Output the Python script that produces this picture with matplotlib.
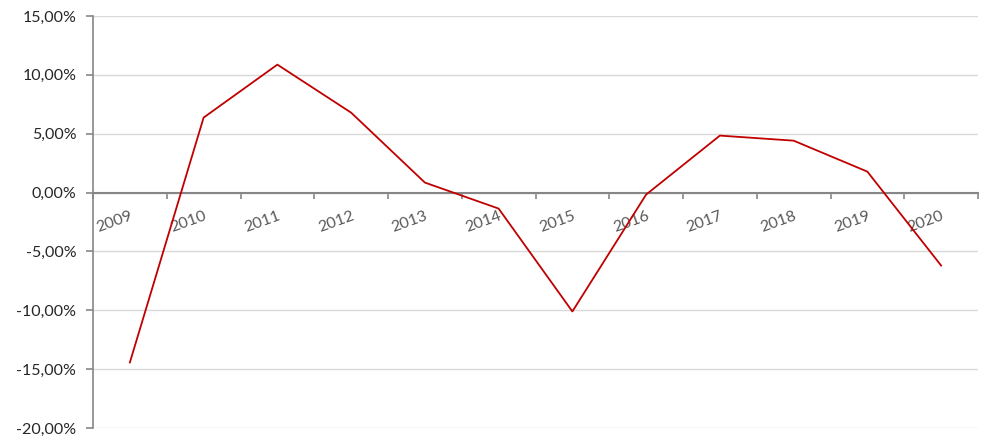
import matplotlib
matplotlib.use("Agg")
import matplotlib.pyplot as plt
from matplotlib.ticker import FuncFormatter

years = ["2009", "2010", "2011", "2012", "2013", "2014", "2015", "2016", "2017", "2018", "2019", "2020"]
values = [-14.43, 6.37, 10.87, 6.79, 0.85, -1.36, -10.10, -0.17, 4.84, 4.41, 1.78, -6.20]
yticks = [-20, -15, -10, -5, 0, 5, 10, 15]

plt.rcParams['font.family'] = ['Lato', 'DejaVu Sans']

fig = plt.figure(figsize=(10, 4.47), dpi=100)
ax = fig.add_axes([0.093, 0.0425, 0.885, 0.9217])

x = list(range(len(years)))
ax.plot(x, values, color="#C00000", linewidth=1.3, zorder=3)

ax.set_xlim(-0.5, len(years) - 0.5)
ax.set_ylim(-20, 15)
ax.set_yticks(yticks)
ax.yaxis.set_major_formatter(FuncFormatter(lambda v, p: f"{v:.2f}%".replace(".", ",")))
ax.grid(axis="y", color="#D9D9D9", linewidth=1.0, zorder=0)

for s in ["top", "right"]:
    ax.spines[s].set_visible(False)
ax.spines["left"].set_color("#868686")
ax.spines["left"].set_linewidth(1.2)
ax.spines["bottom"].set_position(("data", 0))
ax.spines["bottom"].set_color("#868686")
ax.spines["bottom"].set_linewidth(1.5)

# boundaries ticks (major), labels at centers (minor)
ax.set_xticks([i - 0.5 for i in range(len(years) + 1)])
ax.set_xticklabels([])
ax.set_xticks(x, labels=years, minor=True)
ax.tick_params(axis="x", which="major", length=4, width=1.2, color="#868686", direction="out")
ax.tick_params(axis="x", which="minor", length=0, pad=12, labelsize=11.5, labelcolor="#595959")
for lbl in ax.get_xticklabels(minor=True):
    lbl.set_rotation(20)
    lbl.set_ha("right")
    lbl.set_rotation_mode("anchor")
ax.tick_params(axis="y", length=5, width=1.2, color="#868686", labelsize=11.5, labelcolor="#262626", pad=7)

fig.savefig("out.png", dpi=100)
